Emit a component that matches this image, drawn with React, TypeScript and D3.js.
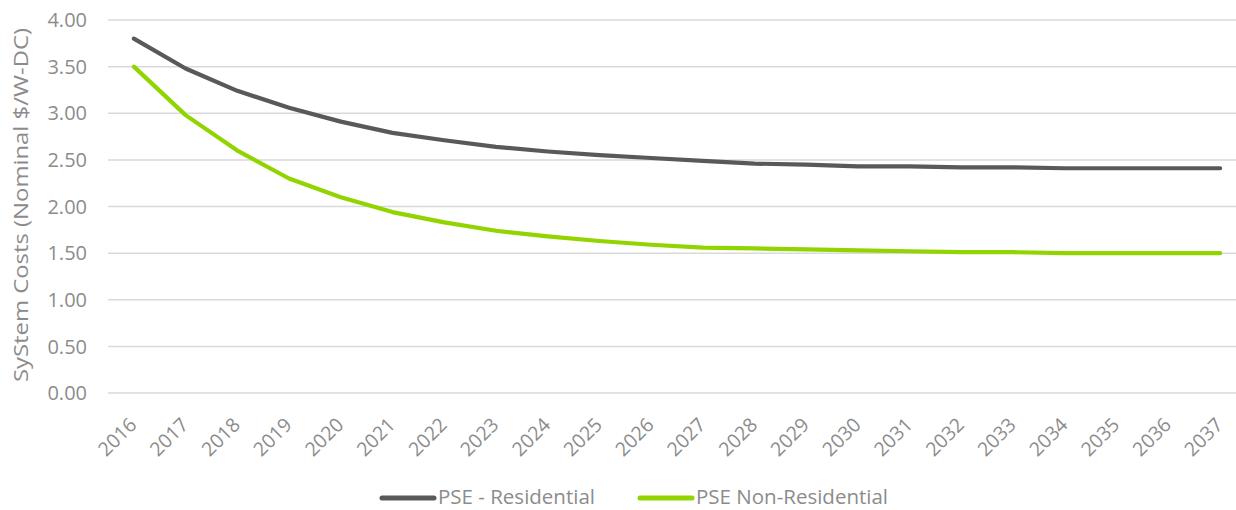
import React from "react";
import * as d3 from "d3";

const years = ["2016","2017","2018","2019","2020","2021","2022","2023","2024","2025","2026","2027","2028","2029","2030","2031","2032","2033","2034","2035","2036","2037"];
const residential = [3.80,3.48,3.24,3.06,2.91,2.79,2.71,2.64,2.59,2.55,2.52,2.49,2.46,2.45,2.43,2.43,2.42,2.42,2.41,2.41,2.41,2.41];
const nonResidential = [3.50,2.98,2.60,2.30,2.10,1.94,1.83,1.74,1.68,1.63,1.59,1.56,1.55,1.54,1.53,1.52,1.51,1.51,1.50,1.50,1.50,1.50];
const yTicks = [0,0.5,1,1.5,2,2.5,3,3.5,4];
const seriesNames = ["PSE - Residential","PSE Non-Residential"];
const colors = ["#595959","#92d400"];

export default function App() {
  const W = 1236, H = 510;
  const left = 108, right = 1246, top = 20, bottom = 393;
  const x = d3.scalePoint<string>().domain(years).range([left, right]).padding(0.5);
  const y = d3.scaleLinear().domain([0, 4]).range([bottom, top]);
  const line = d3.line<number>().x((_, i) => x(years[i]) as number).y(d => y(d)).curve(d3.curveLinear);
  const font = "'Open Sans', sans-serif";
  const tc = "#8c8c8c";
  const series = [residential, nonResidential];
  const legendX = [380, 638];
  const legendY = 497;
  return (
    <svg width={W} height={H} style={{ position: "absolute", left: 0, top: 0, background: "#fff" }}>
      {yTicks.map(t => (
        <g key={t}>
          <line x1={left} x2={W} y1={y(t)} y2={y(t)} stroke="#d9d9d9" strokeWidth={1.5} />
          <text x={87} y={y(t)} dy="0.36em" textAnchor="end" fontFamily={font} fontSize={20} fill={tc}>{t.toFixed(2)}</text>
        </g>
      ))}
      {years.map(yr => (
        <text key={yr} transform={`translate(${(x(yr) as number) + 4},${bottom + 33}) rotate(-45)`} textAnchor="end" fontFamily={font} fontSize={19.5} fill={tc}>{yr}</text>
      ))}
      <text transform={`translate(21,${205}) rotate(-90)`} textAnchor="middle" dy="0.36em" fontFamily={font} fontSize={20} fill={tc} textLength={354} lengthAdjust="spacingAndGlyphs">SyStem Costs (Nominal $/W-DC)</text>
      {series.map((s, i) => (
        <path key={i} d={line(s) || ""} fill="none" stroke={colors[i]} strokeWidth={4.2} strokeLinecap="round" strokeLinejoin="round" />
      ))}
      {seriesNames.map((n, i) => (
        <g key={n}>
          <line x1={legendX[i] + 2} x2={legendX[i] + 54} y1={legendY + 1} y2={legendY + 1} stroke={colors[i]} strokeWidth={5} strokeLinecap="round" />
          <text x={legendX[i] + 58} y={legendY} dy="0.34em" fontFamily={font} fontSize={20.5} fill={tc}>{n}</text>
        </g>
      ))}
    </svg>
  );
}
